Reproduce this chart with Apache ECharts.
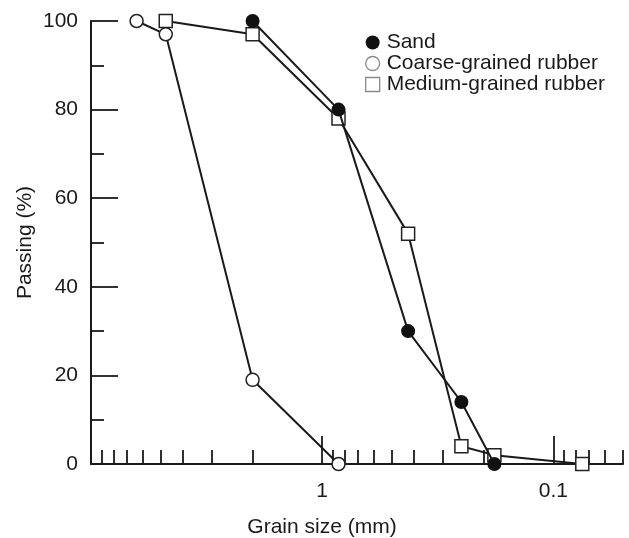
<!DOCTYPE html>
<html>
<head>
<meta charset="utf-8">
<script src="https://cdn.jsdelivr.net/npm/echarts@6/dist/echarts.min.js"></script>
<style>
  html, body { margin: 0; padding: 0; background: #fff; }
  #chart { width: 629px; height: 538px; }
</style>
</head>
<body>
<div id="chart"></div>
<script>
// Sieve analysis: percent passing vs. grain size (log scale, coarse on the left)
const sandSize = [2.0, 0.85, 0.425, 0.25, 0.18];
const sandPassing = [100, 80, 30, 14, 0];

const coarseSize = [6.35, 4.75, 2.0, 0.85];
const coarsePassing = [100, 97, 19, 0];

const mediumSize = [4.75, 2.0, 0.85, 0.425, 0.25, 0.18, 0.075];
const mediumPassing = [100, 97, 78, 52, 4, 2, 0];

const majorTicks = [1, 0.1];
const minorTicks = [9, 8, 7, 6, 5, 4, 3, 2, 0.9, 0.8, 0.7, 0.6, 0.5, 0.4, 0.3, 0.2, 0.09, 0.08, 0.07, 0.06, 0.05];
const yTicks = [0, 20, 40, 60, 80, 100];

const seriesNames = ['Sand', 'Coarse-grained rubber', 'Medium-grained rubber'];

const FONT = 'Liberation Sans, Arial, Helvetica, sans-serif';
const FS = 21;
const INK = '#1a1a1a';

function pairs(xs, ys) {
  return xs.map((x, i) => [x, ys[i]]);
}

const logAxisBase = {
  type: 'log',
  logBase: 10,
  min: 0.05,
  max: 10,
  inverse: true,
  position: 'bottom',
  splitLine: { show: false },
  minorTick: { show: false },
  minorSplitLine: { show: false }
};

const chart = echarts.init(document.getElementById('chart'), null, { renderer: 'canvas' });

chart.setOption({
  animation: false,
  backgroundColor: '#fff',
  textStyle: { fontFamily: FONT, color: INK },
  grid: { left: 91, right: 6, top: 21, bottom: 74, containLabel: false, outerBoundsMode: 'none' },
  legend: {
    orient: 'vertical',
    left: 365,
    top: 32,
    padding: 0,
    itemWidth: 14,
    itemHeight: 14,
    itemGap: 0,
    textStyle: { fontSize: FS, color: INK, fontFamily: FONT, padding: [0, 0, 0, 2] },
    data: [
      { name: seriesNames[0], icon: 'circle', itemStyle: { color: '#111', borderWidth: 0 } },
      { name: seriesNames[1], icon: 'circle', itemStyle: { color: '#fff', borderColor: '#8a8a8a', borderWidth: 1.3 } },
      { name: seriesNames[2], icon: 'rect', itemStyle: { color: '#fff', borderColor: '#8a8a8a', borderWidth: 1.3 } }
    ]
  },
  xAxis: [
    Object.assign({}, logAxisBase, {
      name: 'Grain size (mm)',
      nameLocation: 'middle',
      nameGap: 53,
      nameMoveOverlap: false,
      nameTextStyle: { fontSize: FS, color: INK, fontFamily: FONT, padding: [0, 70, 0, 0] },
      axisLine: { show: true, lineStyle: { color: INK, width: 2 } },
      axisTick: {
        show: true, inside: true, length: 28, customValues: majorTicks,
        lineStyle: { color: INK, width: 1.8 }
      },
      axisLabel: {
        show: true, customValues: majorTicks, margin: 17,
        fontSize: FS, color: INK, fontFamily: FONT,
        formatter: v => String(+(+v).toPrecision(6))
      }
    }),
    Object.assign({}, logAxisBase, {
      axisLine: { show: false },
      axisTick: {
        show: true, inside: true, length: 14, customValues: minorTicks,
        lineStyle: { color: INK, width: 1.8 }
      },
      axisLabel: { show: false }
    })
  ],
  yAxis: {
    type: 'value',
    min: 0,
    max: 100,
    interval: 20,
    name: 'Passing (%)',
    nameLocation: 'middle',
    nameGap: 55,
    nameMoveOverlap: false,
    nameTextStyle: { fontSize: FS, color: INK, fontFamily: FONT },
    splitLine: { show: false },
    axisLine: { show: true, lineStyle: { color: INK, width: 2 } },
    axisTick: { show: true, inside: true, length: 27, lineStyle: { color: INK, width: 1.8 } },
    minorTick: { show: true, splitNumber: 2, length: 13, lineStyle: { color: INK, width: 1.8 } },
    axisLabel: {
      margin: 13, fontSize: FS, color: INK, fontFamily: FONT,
      customValues: yTicks
    }
  },
  series: [
    {
      name: seriesNames[2],
      type: 'line',
      xAxisIndex: 0,
      data: pairs(mediumSize, mediumPassing),
      symbol: 'rect',
      symbolSize: 13,
      lineStyle: { color: INK, width: 2 },
      itemStyle: { color: '#fff', borderColor: '#222', borderWidth: 1.5 },
      z: 3
    },
    {
      name: seriesNames[1],
      type: 'line',
      xAxisIndex: 0,
      data: pairs(coarseSize, coarsePassing),
      symbol: 'circle',
      symbolSize: 13,
      lineStyle: { color: INK, width: 2 },
      itemStyle: { color: '#fff', borderColor: '#222', borderWidth: 1.5 },
      z: 4
    },
    {
      name: seriesNames[0],
      type: 'line',
      xAxisIndex: 0,
      data: pairs(sandSize, sandPassing),
      symbol: 'circle',
      symbolSize: 14,
      lineStyle: { color: INK, width: 2 },
      itemStyle: { color: '#111', borderColor: '#111', borderWidth: 0 },
      z: 5
    }
  ]
});
</script>
</body>
</html>
